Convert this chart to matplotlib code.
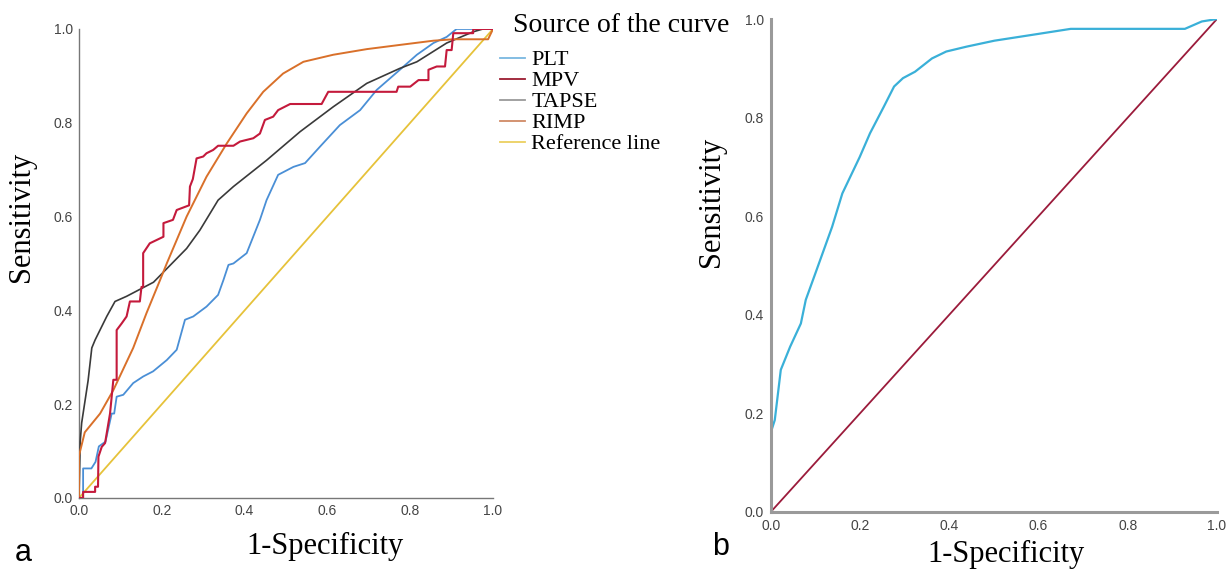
import matplotlib
matplotlib.use('Agg')
import matplotlib.pyplot as plt

# Panel a: ROC curves (1-specificity, sensitivity)
plt_fpr = [0, 0.01, 0.01, 0.03, 0.04, 0.048, 0.064, 0.079, 0.085, 0.091, 0.107, 0.131, 0.155, 0.179,
           0.212, 0.236, 0.256, 0.276, 0.308, 0.336, 0.349, 0.361, 0.373, 0.405, 0.437, 0.453, 0.481,
           0.518, 0.546, 0.582, 0.63, 0.679, 0.719, 0.775, 0.816, 0.856, 0.888, 0.912, 1.0]
plt_tpr = [0, 0, 0.063, 0.063, 0.077, 0.11, 0.12, 0.18, 0.18, 0.216, 0.22, 0.245, 0.259, 0.27,
           0.294, 0.316, 0.38, 0.387, 0.408, 0.433, 0.465, 0.497, 0.5, 0.522, 0.593, 0.635, 0.689,
           0.706, 0.714, 0.749, 0.795, 0.827, 0.87, 0.913, 0.945, 0.97, 0.983, 1.0, 1.0]

mpv_fpr = [0, 0.01, 0.01, 0.039, 0.039, 0.046, 0.047, 0.055, 0.063, 0.075, 0.083, 0.091, 0.091, 0.103,
           0.115, 0.123, 0.147, 0.151, 0.155, 0.155, 0.171, 0.204, 0.204, 0.227, 0.236, 0.266, 0.268,
           0.275, 0.284, 0.300, 0.308, 0.324, 0.336, 0.373, 0.389, 0.421, 0.437, 0.449, 0.469, 0.481,
           0.51, 0.586, 0.602, 0.767, 0.771, 0.80, 0.82, 0.844, 0.844, 0.864, 0.884, 0.888, 0.9, 0.904,
           0.952, 0.952, 1.0]
mpv_tpr = [0, 0, 0.013, 0.013, 0.024, 0.024, 0.088, 0.109, 0.117, 0.18, 0.252, 0.252, 0.358, 0.372,
           0.387, 0.419, 0.419, 0.45, 0.45, 0.522, 0.543, 0.557, 0.586, 0.593, 0.614, 0.624, 0.664,
           0.68, 0.724, 0.728, 0.735, 0.742, 0.751, 0.751, 0.76, 0.767, 0.777, 0.806, 0.813, 0.827,
           0.84, 0.84, 0.866, 0.866, 0.877, 0.877, 0.891, 0.891, 0.913, 0.92, 0.92, 0.955, 0.955, 0.991,
           0.991, 1.0, 1.0]

tapse_fpr = [0, 0.003, 0.0065, 0.022, 0.031, 0.039, 0.067, 0.087, 0.115, 0.18, 0.26, 0.292, 0.336,
             0.373, 0.453, 0.534, 0.614, 0.695, 0.775, 0.816, 0.888, 0.952, 0.976, 1.0]
tapse_tpr = [0, 0.12, 0.16, 0.25, 0.32, 0.337, 0.387, 0.419, 0.43, 0.46, 0.532, 0.571, 0.635,
             0.664, 0.72, 0.781, 0.834, 0.884, 0.916, 0.93, 0.97, 0.994, 1.0, 1.0]

rimp_fpr = [0, 0, 0.014, 0.051, 0.083, 0.131, 0.163, 0.196, 0.212, 0.26, 0.308, 0.357, 0.405, 0.445,
            0.493, 0.542, 0.614, 0.695, 0.775, 0.856, 0.904, 0.988, 1.0]
rimp_tpr = [0, 0.09, 0.14, 0.18, 0.23, 0.32, 0.394, 0.465, 0.50, 0.60, 0.685, 0.756, 0.82, 0.866,
            0.905, 0.93, 0.945, 0.957, 0.966, 0.975, 0.978, 0.978, 1.0]

ref_line = [0, 1]

# Panel b: single ROC curve
b_fpr = [0, 0, 0.0085, 0.022, 0.043, 0.067, 0.078, 0.098, 0.137, 0.16, 0.199, 0.222, 0.253, 0.276,
         0.296, 0.323, 0.361, 0.393, 0.439, 0.501, 0.594, 0.672, 0.928, 0.966, 1.0]
b_tpr = [0, 0.162, 0.186, 0.288, 0.335, 0.382, 0.43, 0.48, 0.578, 0.646, 0.72, 0.768, 0.822, 0.863,
         0.88, 0.893, 0.92, 0.934, 0.944, 0.956, 0.969, 0.98, 0.98, 0.995, 1.0]

ticks = [0.0, 0.2, 0.4, 0.6, 0.8, 1.0]
tick_labels = ['0.0', '0.2', '0.4', '0.6', '0.8', '1.0']

serif = 'Liberation Serif'
sans = 'Liberation Sans'

fig = plt.figure(figsize=(12.32, 5.69), dpi=100)
ax_a = fig.add_axes([0.0641, 0.1248, 0.3361, 0.8243])
ax_b = fig.add_axes([0.6258, 0.1007, 0.3620, 0.8659])

ax_a.plot(ref_line, ref_line, color='#e6c23a', lw=1.3, label='Reference line', zorder=1)
ax_a.plot(plt_fpr, plt_tpr, color='#4a8fd6', lw=1.3, label='PLT', zorder=2)
ax_a.plot(tapse_fpr, tapse_tpr, color='#3a3a3a', lw=1.2, label='TAPSE', zorder=3)
ax_a.plot(rimp_fpr, rimp_tpr, color='#d9702a', lw=1.4, label='RIMP', zorder=3)
ax_a.plot(mpv_fpr, mpv_tpr, color='#c41a3c', lw=1.5, label='MPV', zorder=4)

ax_b.plot(ref_line, ref_line, color='#9b1b3b', lw=1.3)
ax_b.plot(b_fpr, b_tpr, color='#3ab0d8', lw=1.6)

for ax, spine_c, spine_w, pad in [(ax_a, '#777777', 1.0, 4.5), (ax_b, '#9a9a9a', 2.2, 5.0)]:
    ax.set_xlim(0, 1)
    ax.set_ylim(0, 1)
    for s in ['top', 'right']:
        ax.spines[s].set_visible(False)
    for s in ['left', 'bottom']:
        ax.spines[s].set_color(spine_c)
        ax.spines[s].set_linewidth(spine_w)
    ax.set_xticks(ticks)
    ax.set_yticks(ticks)
    ax.set_xticklabels(tick_labels, fontfamily=sans)
    ax.set_yticklabels(tick_labels, fontfamily=sans)
    ax.tick_params(length=0, labelsize=10, labelcolor='#444444', pad=pad)
    ax.set_xlabel('1-Specificity', fontfamily=serif, fontsize=22)
    ax.set_ylabel('Sensitivity', fontfamily=serif, fontsize=22)

ax_a.yaxis.set_label_coords(-0.104, 0.60)
ax_a.xaxis.set_label_coords(0.594, -0.072)
ax_b.yaxis.set_label_coords(-0.101, 0.629)
ax_b.xaxis.set_label_coords(0.527, -0.057)

# legend for panel a
handles, labels = ax_a.get_legend_handles_labels()
order = ['PLT', 'MPV', 'TAPSE', 'RIMP', 'Reference line']
leg_colors = {'PLT': '#7ab8e0', 'MPV': '#9b1b30', 'TAPSE': '#9a9a9a', 'RIMP': '#d08a66',
              'Reference line': '#ecd060'}
hmap = dict(zip(labels, handles))
leg = fig.legend([hmap[k] for k in order], order, loc='upper left',
                 bbox_to_anchor=(0.397, 0.932), frameon=False,
                 prop={'family': serif, 'size': 16}, handlelength=1.1,
                 handletextpad=0.3, labelspacing=0.02, borderpad=0.0)
for line, k in zip(leg.get_lines(), order):
    line.set_color(leg_colors[k])
    line.set_linewidth(1.3)
fig.text(0.416, 0.955, 'Source of the curve', fontfamily=serif, fontsize=20,
         ha='left', va='center')

fig.text(0.012, 0.002, 'a', fontfamily=sans, fontsize=22, ha='left', va='bottom')
fig.text(0.578, 0.012, 'b', fontfamily=sans, fontsize=22, ha='left', va='bottom')

fig.savefig('out.png', dpi=100)
